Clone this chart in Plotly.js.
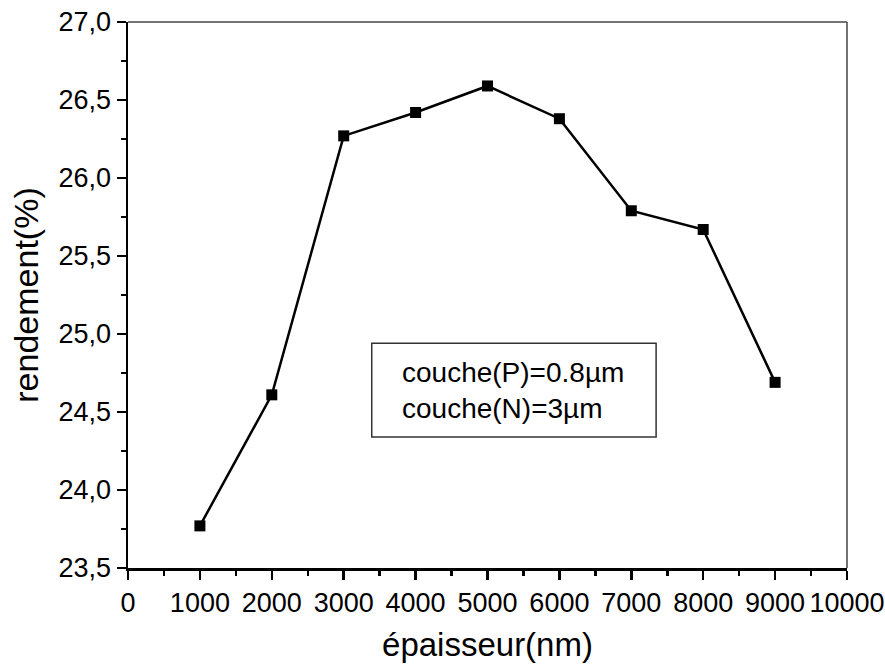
<!DOCTYPE html>
<html>
<head>
<meta charset="utf-8">
<script src="https://cdn.plot.ly/plotly-3.0.1.min.js"></script>
<style>html,body{margin:0;padding:0;background:#fff;}#chart{width:885px;height:666px;}</style>
</head>
<body>
<div id="chart"></div>
<script>
const thickness = [1000, 2000, 3000, 4000, 5000, 6000, 7000, 8000, 9000];
const rendement = [23.77, 24.61, 26.27, 26.42, 26.59, 26.38, 25.79, 25.67, 24.69];
const xTickVals = [0, 1000, 2000, 3000, 4000, 5000, 6000, 7000, 8000, 9000, 10000];
const xTickText = ['0', '1000', '2000', '3000', '4000', '5000', '6000', '7000', '8000', '9000', '10000'];
const yTickVals = [23.5, 24.0, 24.5, 25.0, 25.5, 26.0, 26.5, 27.0];
const yTickText = ['23,5', '24,0', '24,5', '25,0', '25,5', '26,0', '26,5', '27,0'];
const boxLines = ['couche(P)=0.8µm', 'couche(N)=3µm'];

const FONT = 'Liberation Sans, Arial, Helvetica, sans-serif';

const trace = {
  x: thickness,
  y: rendement,
  type: 'scatter',
  mode: 'lines+markers',
  line: {color: '#000', width: 2.5},
  marker: {symbol: 'square', size: 11, color: '#000'},
  showlegend: false,
  cliponaxis: false
};

const layout = {
  width: 885,
  height: 666,
  margin: {l: 128, r: 38, t: 22, b: 98},
  paper_bgcolor: '#fff',
  plot_bgcolor: '#fff',
  font: {family: FONT, color: '#000'},
  xaxis: {
    range: [0, 10000],
    tickvals: xTickVals,
    ticktext: xTickText,
    ticks: 'outside',
    ticklen: 9,
    tickwidth: 2.5,
    tickcolor: '#000',
    minor: {dtick: 500, tick0: 0, ticks: 'outside', ticklen: 5, tickwidth: 2.5, tickcolor: '#000', showgrid: false},
    showline: true,
    linewidth: 2.5,
    linecolor: '#000',
    showgrid: false,
    zeroline: false,
    tickfont: {size: 27, family: FONT, color: '#000'},
    title: {text: 'épaisseur(nm)', font: {size: 33, family: FONT, color: '#000'}, standoff: 16}
  },
  yaxis: {
    range: [23.5, 27.0],
    tickvals: yTickVals,
    ticktext: yTickText,
    ticks: 'outside',
    ticklen: 9,
    tickwidth: 2.5,
    tickcolor: '#000',
    minor: {dtick: 0.25, tick0: 23.5, ticks: 'outside', ticklen: 5, tickwidth: 2.5, tickcolor: '#000', showgrid: false},
    showline: true,
    linewidth: 2.5,
    linecolor: '#000',
    showgrid: false,
    zeroline: false,
    tickfont: {size: 27, family: FONT, color: '#000'},
    title: {text: 'rendement(%)', font: {size: 34, family: FONT, color: '#000'}, standoff: 10}
  },
  shapes: [
    {type: 'line', xref: 'x domain', yref: 'y domain', x0: 0, x1: 1, y0: 1, y1: 1, line: {color: '#444', width: 1.5}},
    {type: 'line', xref: 'x domain', yref: 'y domain', x0: 1, x1: 1, y0: 0, y1: 1, line: {color: '#444', width: 1.5}},
    {type: 'rect', xref: 'x', yref: 'y', x0: 3390, x1: 7345, y0: 24.34, y1: 24.94, line: {color: '#333', width: 1.5}, fillcolor: 'rgba(0,0,0,0)'}
  ],
  annotations: [
    {x: 3782, y: 24.64, xref: 'x', yref: 'y', xanchor: 'left', yanchor: 'middle', align: 'left',
     text: boxLines.join('<br>'), showarrow: false, font: {size: 28, family: FONT, color: '#000'}}
  ]
};

Plotly.newPlot('chart', [trace], layout, {displayModeBar: false, staticPlot: true});
</script>
</body>
</html>
